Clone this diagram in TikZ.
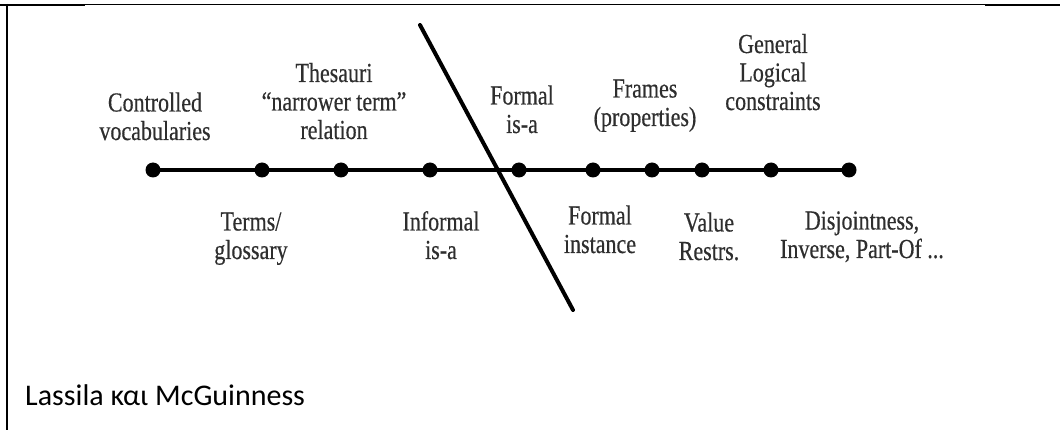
\documentclass[tikz,border=0pt]{standalone}
\usepackage{fontspec}
\newfontfamily\lblfont[FakeStretch=0.8, FakeBold=0.4]{Liberation Serif}
\newfontfamily\capfont{Carlito}
\definecolor{inkgray}{gray}{0.18}
\tikzset{
  axisline/.style={line width=4.5pt, black},
  cutline/.style={line width=4pt, black, line cap=round},
  dotnode/.style={circle, fill=black, inner sep=0pt, minimum size=15pt},
  lbl/.style={anchor=base, align=center, inner sep=0pt, text=inkgray,
    font=\lblfont\fontsize{27.5}{28.5}\selectfont},
  frameline/.style={black},
}
\begin{document}
\begin{tikzpicture}[x=1pt, y=-1pt]
  \useasboundingbox (0,0) rectangle (1060,430);
  \fill[white] (0,0) rectangle (1060,430);

  % table frame
  \draw[frameline, line width=2pt] (0,5) -- (85,5);
  \draw[frameline, line width=1.3pt] (85,4.6) -- (985,4.6);
  \draw[frameline, line width=2.2pt] (985,5.1) -- (1060,5.1);
  \draw[frameline, line width=2pt] (7,4) -- (7,430);

  % points on the scale
  \node[dotnode] (d1)  at (153,170) {};
  \node[dotnode] (d2)  at (262,170) {};
  \node[dotnode] (d3)  at (341,170) {};
  \node[dotnode] (d4)  at (430,170) {};
  \node[dotnode] (d5)  at (519,170) {};
  \node[dotnode] (d6)  at (593,170) {};
  \node[dotnode] (d7)  at (652,170) {};
  \node[dotnode] (d8)  at (702,170) {};
  \node[dotnode] (d9)  at (771,170) {};
  \node[dotnode] (d10) at (849,170) {};
  \draw[axisline] (d1.center) -- (d10.center);

  % dividing line
  \coordinate (cuttop) at (420,25);
  \coordinate (cutbot) at (573,310);
  \draw[cutline] (cuttop) -- (cutbot);

  % labels above the scale (placed by the baseline of their last line)
  \node[lbl] (ctl) at (155,140) {Controlled\\vocabularies};
  \node[lbl] (the) at (334,139) {Thesauri\\“narrower term”\\relation};
  \node[lbl] (fia) at (522,133) {Formal\\is-a};
  \node[lbl] (frm) at (645,126) {Frames\\(properties)};
  \node[lbl] (glc) at (773,110) {General\\Logical\\constraints};

  % labels below the scale
  \node[lbl] (trm) at (251,259) {Terms/\\glossary};
  \node[lbl] (ifa) at (441,259) {Informal\\is-a};
  \node[lbl] (fin) at (600,253) {Formal\\instance};
  \node[lbl] (val) at (709,260) {Value\\Restrs.};
  \node[lbl] (dis) at (862,258) {Disjointness,\\Inverse, Part-Of ...};

  % caption
  \node[anchor=base west, inner sep=0pt, font=\capfont\fontsize{30}{36}\selectfont]
    (cap) at (25,405) {Lassila και McGuinness};
\end{tikzpicture}
\end{document}
